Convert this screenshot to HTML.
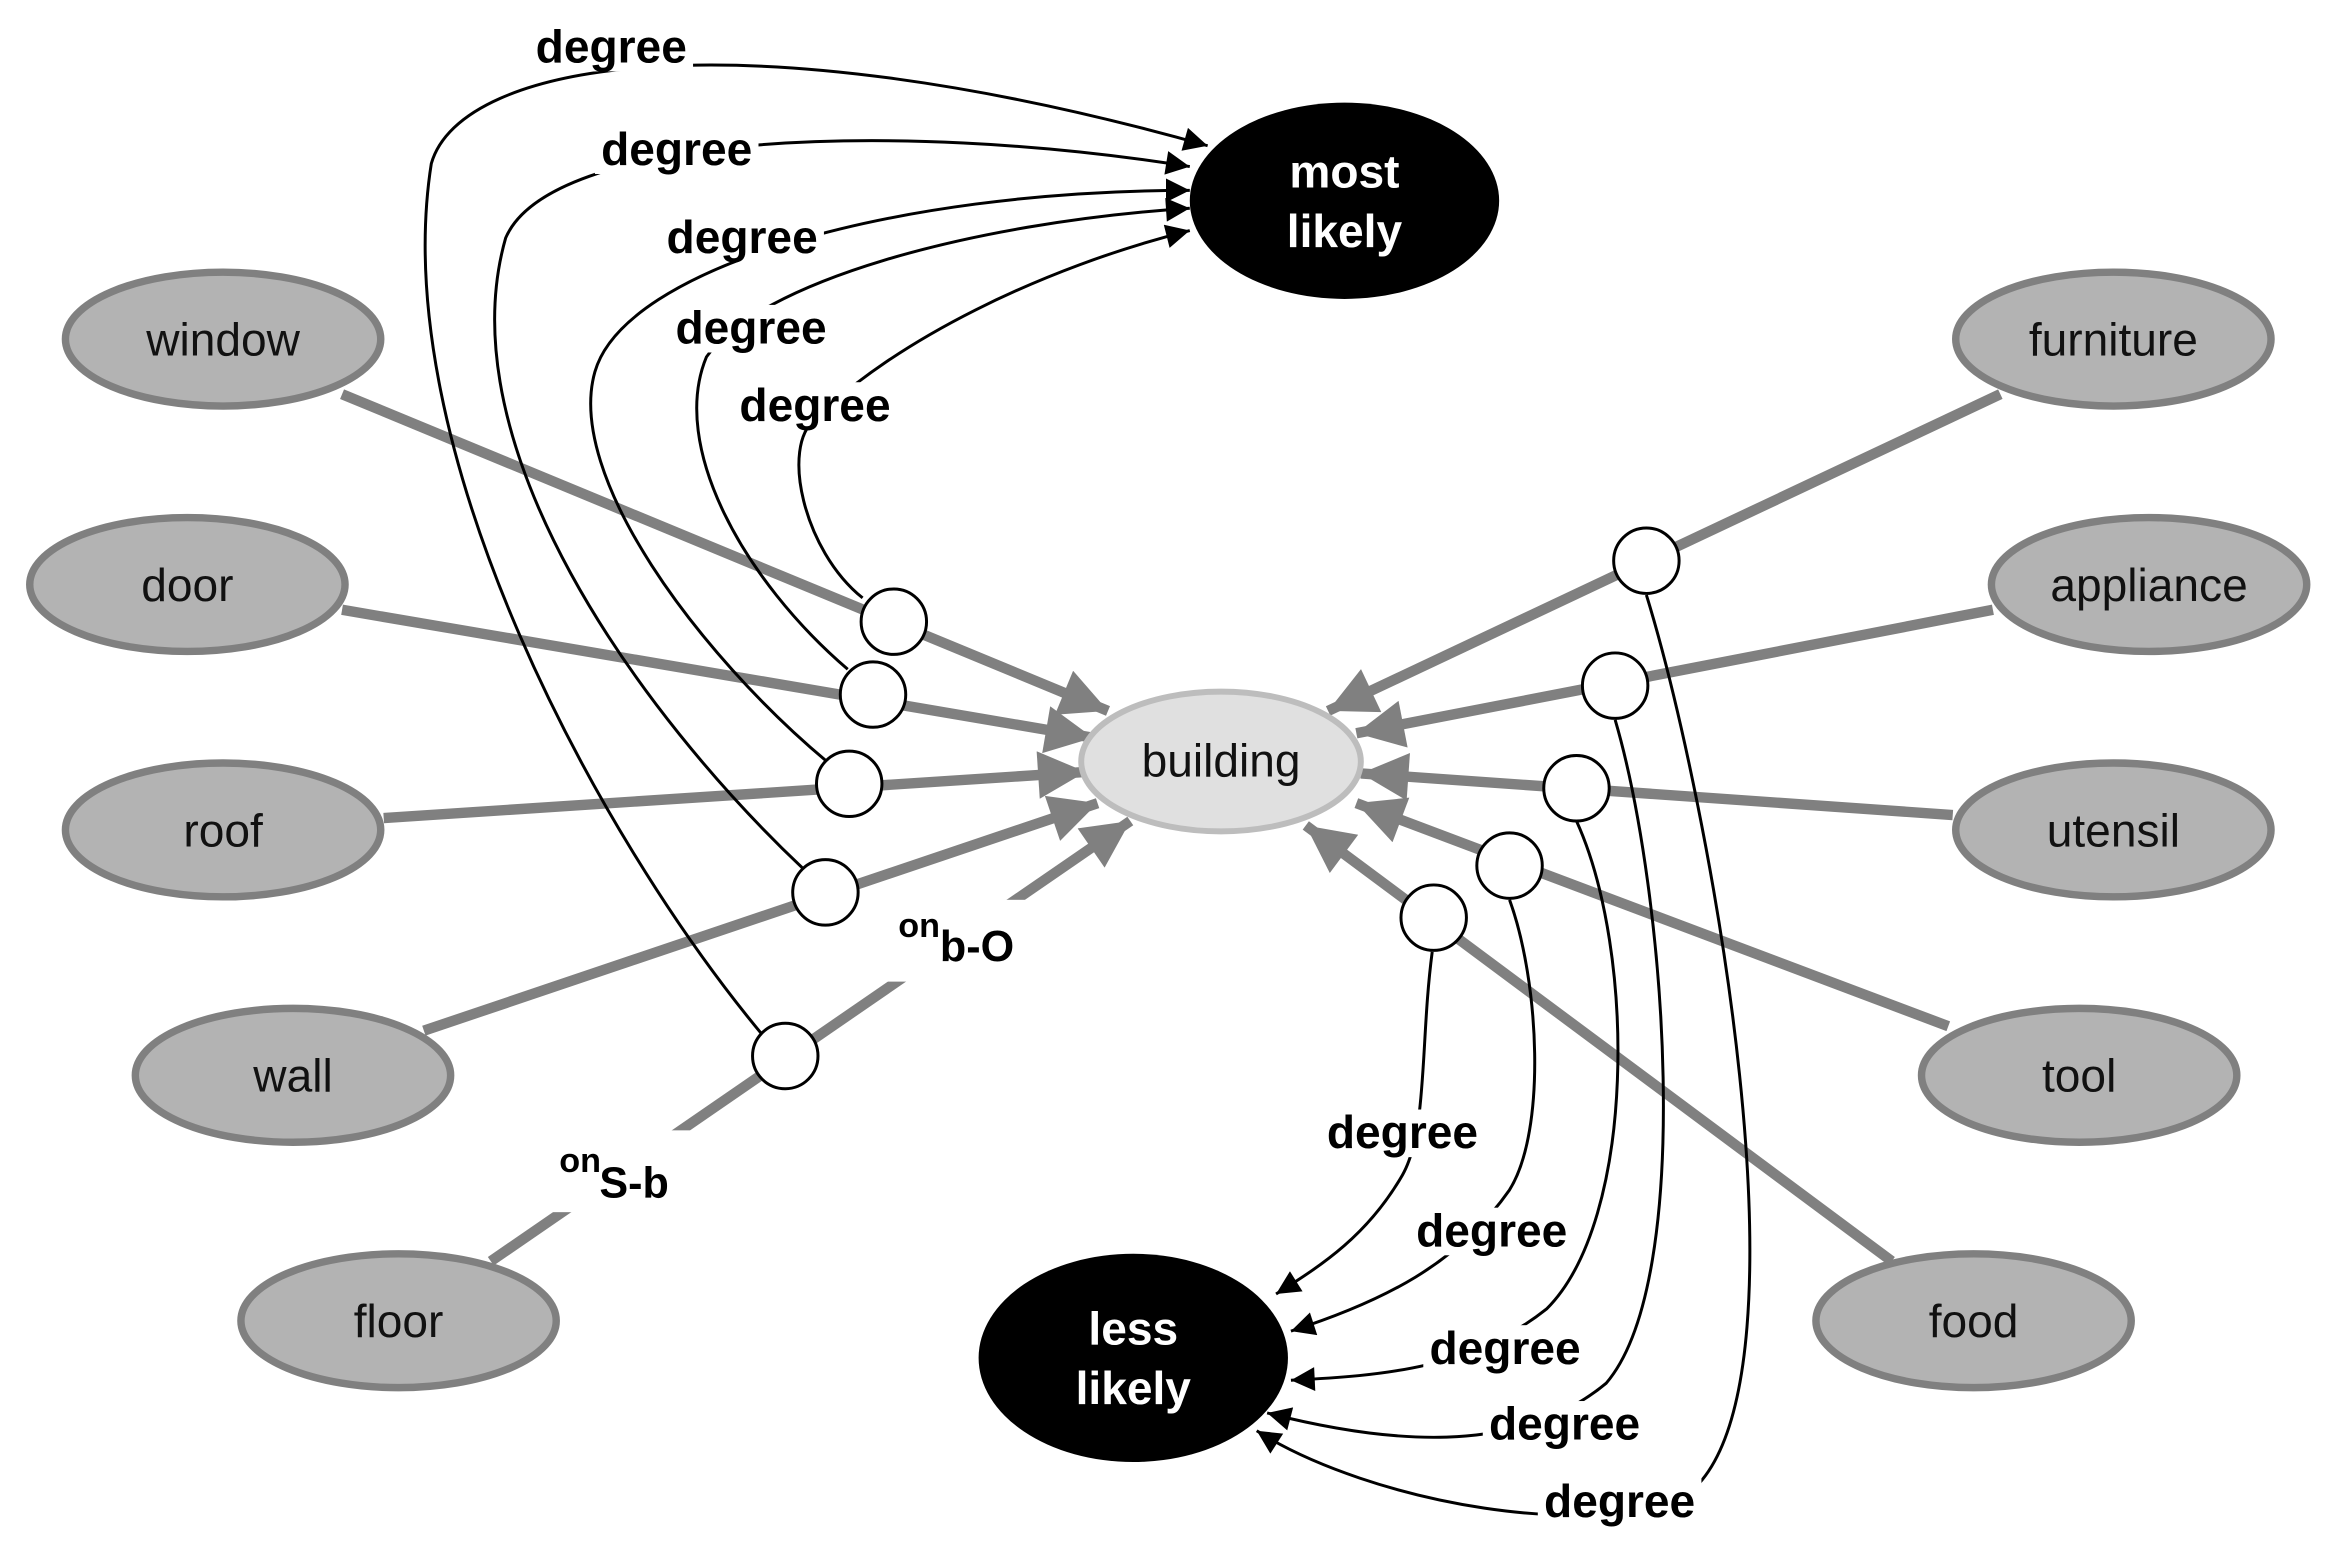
<!DOCTYPE html>
<html><head><meta charset="utf-8"><style>
html,body{margin:0;padding:0;background:#fff;}
svg{display:block;}
text{font-family:"Liberation Sans",sans-serif;}
</style></head><body>
<svg width="2332" height="1552" viewBox="0 0 1568 1043.5" preserveAspectRatio="none" xmlns="http://www.w3.org/2000/svg">
<defs>
<marker id="ba" viewBox="0 0 10 10" refX="10" refY="5" markerWidth="20" markerHeight="16" markerUnits="userSpaceOnUse" orient="auto"><path d="M0,0 L10,5 L0,10 z" fill="#000"/></marker>
<marker id="gr" viewBox="0 0 10 10" refX="10" refY="5" markerWidth="40" markerHeight="32" markerUnits="userSpaceOnUse" orient="auto"><path d="M0,0 L10,5 L0,10 z" fill="#808080"/></marker>
</defs>
<g stroke="#808080" stroke-width="7" fill="none">
<line x1="230" y1="265" x2="745" y2="478" marker-end="url(#gr)"/>
<line x1="230" y1="410" x2="735" y2="496" marker-end="url(#gr)"/>
<line x1="258" y1="550" x2="730" y2="519" marker-end="url(#gr)"/>
<line x1="285" y1="693" x2="738" y2="540" marker-end="url(#gr)"/>
<line x1="330" y1="848" x2="760" y2="552" marker-end="url(#gr)"/>
<line x1="1345" y1="265" x2="893" y2="478" marker-end="url(#gr)"/>
<line x1="1340" y1="410" x2="912" y2="493" marker-end="url(#gr)"/>
<line x1="1313" y1="548" x2="915" y2="520" marker-end="url(#gr)"/>
<line x1="1310" y1="690" x2="912" y2="540" marker-end="url(#gr)"/>
<line x1="1272" y1="848" x2="878" y2="555" marker-end="url(#gr)"/>
</g>
<rect x="360" y="760" width="110" height="55" fill="#fff"/>
<rect x="595" y="605" width="110" height="55" fill="#fff"/>
<text x="376" y="788" font-size="23" font-weight="bold">on</text><text x="403" y="805" font-size="29" font-weight="bold">S-b</text>
<text x="604" y="630" font-size="23" font-weight="bold">on</text><text x="632" y="646" font-size="29" font-weight="bold">b-O</text>
<g stroke="#000" stroke-width="2" fill="none" marker-end="url(#ba)">
<path d="M580,402 C540,370 525,300 548,282 C600,230 700,180 800,155"/>
<path d="M570,450 C500,390 450,300 475,240 C510,190 650,150 800,140"/>
<path d="M556,512 C470,440 380,320 400,250 C420,180 600,128 800,128"/>
<path d="M540,584 C430,480 300,300 340,160 C370,90 600,80 800,112"/>
<path d="M512,695 C400,560 260,300 290,110 C310,40 500,10 812,98"/>
<path d="M963,640 C955,700 960,760 943,790 C920,830 890,850 858,870"/>
<path d="M1015,605 C1035,660 1040,760 1015,800 C980,850 930,875 868,895"/>
<path d="M1060,552 C1100,640 1100,820 1040,880 C990,920 930,925 868,928"/>
<path d="M1086,484 C1120,600 1140,860 1080,930 C1020,980 930,970 852,950"/>
<path d="M1107,400 C1150,540 1220,920 1140,1000 C1080,1040 920,1010 845,962"/>
</g>
<g font-size="31" font-weight="bold" text-anchor="middle">
<g fill="#fff"><rect x="356" y="16" width="110" height="32"/><rect x="400" y="85" width="110" height="32"/><rect x="444" y="144" width="110" height="32"/><rect x="450" y="205" width="110" height="32"/><rect x="493" y="257" width="110" height="32"/>
<rect x="888" y="746" width="110" height="32"/><rect x="948" y="812" width="110" height="32"/><rect x="957" y="891" width="110" height="32"/><rect x="997" y="942" width="110" height="32"/><rect x="1034" y="994" width="110" height="32"/></g>
<text x="411" y="42">degree</text><text x="455" y="111">degree</text><text x="499" y="170">degree</text><text x="505" y="231">degree</text><text x="548" y="283">degree</text>
<text x="943" y="772">degree</text><text x="1003" y="838">degree</text><text x="1012" y="917">degree</text><text x="1052" y="968">degree</text><text x="1089" y="1020">degree</text>
</g>
<g fill="#fff" stroke="#000" stroke-width="2">
<circle cx="601" cy="418" r="22"/><circle cx="587" cy="467" r="22"/><circle cx="571" cy="527" r="22"/><circle cx="555" cy="600" r="22"/><circle cx="528" cy="710" r="22"/>
<circle cx="1107" cy="377" r="22"/><circle cx="1086" cy="461" r="22"/><circle cx="1060" cy="530" r="22"/><circle cx="1015" cy="582" r="22"/><circle cx="964" cy="617" r="22"/>
</g>
<g fill="#b3b3b3" stroke="#808080" stroke-width="5">
<ellipse cx="150" cy="228" rx="106" ry="45"/><ellipse cx="126" cy="393" rx="106" ry="45"/><ellipse cx="150" cy="558" rx="106" ry="45"/><ellipse cx="197" cy="723" rx="106" ry="45"/><ellipse cx="268" cy="888" rx="106" ry="45"/>
<ellipse cx="1421" cy="228" rx="106" ry="45"/><ellipse cx="1445" cy="393" rx="106" ry="45"/><ellipse cx="1421" cy="558" rx="106" ry="45"/><ellipse cx="1398" cy="723" rx="106" ry="45"/><ellipse cx="1327" cy="888" rx="106" ry="45"/>
</g>
<ellipse cx="821" cy="512" rx="94" ry="47" fill="#e0e0e0" stroke="#bdbdbd" stroke-width="4"/>
<ellipse cx="904" cy="135" rx="104" ry="66" fill="#000"/>
<ellipse cx="762" cy="913" rx="104" ry="70" fill="#000"/>
<g font-size="31" text-anchor="middle" fill="#111">
<text x="150" y="239">window</text><text x="126" y="404">door</text><text x="150" y="569">roof</text><text x="197" y="734">wall</text><text x="268" y="899">floor</text>
<text x="1421" y="239">furniture</text><text x="1445" y="404">appliance</text><text x="1421" y="569">utensil</text><text x="1398" y="734">tool</text><text x="1327" y="899">food</text>
<text x="821" y="522">building</text>
</g>
<g font-size="31" font-weight="bold" text-anchor="middle" fill="#fff">
<text x="904" y="126">most</text><text x="904" y="166">likely</text>
<text x="762" y="904">less</text><text x="762" y="944">likely</text>
</g>
</svg>
</body></html>
